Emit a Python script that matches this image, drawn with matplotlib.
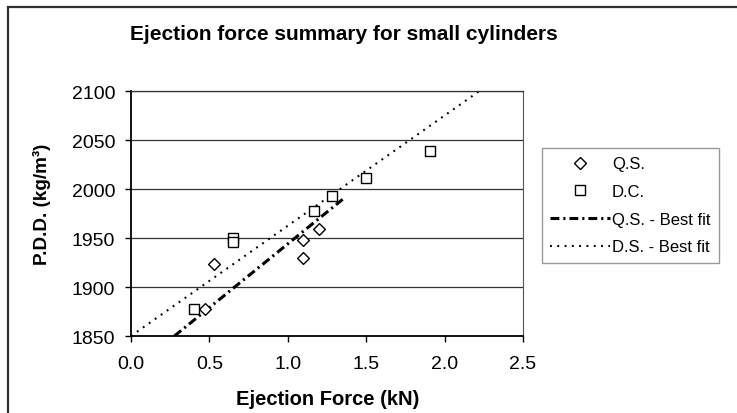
import matplotlib
matplotlib.use("Agg")
import matplotlib.pyplot as plt
import numpy as np
from matplotlib.lines import Line2D
from matplotlib.patches import Rectangle

plt.rcParams["font.family"] = ["Liberation Sans", "DejaVu Sans"]

# Q.S. (quasi-static) samples
qs_force = [0.47, 0.53, 1.10, 1.10, 1.20]
qs_pdd = [1878, 1923, 1948, 1930, 1959]

# D.C. samples
dc_force = [0.40, 0.65, 0.65, 1.17, 1.28, 1.50, 1.91]
dc_pdd = [1878, 1950, 1946, 1978, 1993, 2011, 2039]

# trend lines: slope, intercept and x span
qs_fit = (130.0, 1814.0)
qs_fit_span = [0.276, 1.35]
ds_fit = (112.5, 1850.0)
ds_fit_span = [0.0, 2.222]

x_ticks = [0.0, 0.5, 1.0, 1.5, 2.0, 2.5]
y_ticks = [1850, 1900, 1950, 2000, 2050, 2100]

QS_DASH = (2.9, 1.3, 0.7, 1.3)
DS_DASH = (0.9, 2.6)

W, H = 737, 414
fig = plt.figure(figsize=(W / 100, H / 100), dpi=100)
ax = fig.add_axes([131 / W, 1 - 337 / H, 392 / W, 245 / H])

# outer chart frame (right and bottom edges run off the canvas)
fig.patches.append(Rectangle((8 / W, -0.05), 1.2, 1 - 8 / H + 0.05,
                             transform=fig.transFigure, fill=False,
                             edgecolor="#303030", linewidth=1.6))

for y in y_ticks[1:]:
    ax.axhline(y, color="#333333", linewidth=0.9, zorder=1)

xs = np.array(qs_fit_span)
ax.plot(xs, qs_fit[0] * xs + qs_fit[1], color="black", linewidth=2.2,
        dashes=QS_DASH, zorder=2)
xs = np.array(ds_fit_span)
ax.plot(xs, ds_fit[0] * xs + ds_fit[1], color="black", linewidth=1.5,
        dashes=DS_DASH, zorder=2)

ax.scatter(qs_force, qs_pdd, marker="D", s=36, facecolor="white",
           edgecolor="black", linewidth=1.0, zorder=3)
ax.scatter(dc_force, dc_pdd, marker="s", s=60, facecolor="white",
           edgecolor="black", linewidth=1.0, zorder=3)

ax.set_xlim(0, 2.5)
ax.set_ylim(1850, 2100)
ax.set_xticks(x_ticks, [f"{v:.1f}" for v in x_ticks])
ax.set_yticks(y_ticks, [str(v) for v in y_ticks])
ax.tick_params(direction="out", length=4.5, width=1, labelsize=14, pad=7)
ax.tick_params(axis="x", pad=9)

ax.spines["left"].set_linewidth(1.3)
ax.spines["bottom"].set_linewidth(1.3)
ax.spines["right"].set_color("#555555")
ax.spines["top"].set_color("#333333")
ax.spines["top"].set_linewidth(0.9)

fig.text(328 / W, 1 - 400 / H, "Ejection Force (kN)", ha="center",
         va="center", fontsize=14.5, fontweight="bold")
fig.text(42 / W, 1 - 204 / H, "P.D.D. (kg/m³)", ha="center", va="center",
         rotation=90, fontsize=13.6, fontweight="bold")
fig.text(344 / W, 1 - 34 / H, "Ejection force summary for small cylinders",
         ha="center", va="center", fontsize=15, fontweight="bold")

handles = [
    Line2D([], [], linestyle="none", marker="D", markersize=6,
           markerfacecolor="white", markeredgecolor="black"),
    Line2D([], [], linestyle="none", marker="s", markersize=7.5,
           markerfacecolor="white", markeredgecolor="black"),
    Line2D([], [], color="black", linewidth=2.2, dashes=QS_DASH),
    Line2D([], [], color="black", linewidth=1.5, dashes=DS_DASH),
]
labels = ["Q.S.", "D.C.", "Q.S. - Best fit", "D.S. - Best fit"]
leg = fig.legend(handles, labels, loc="upper left",
                 bbox_to_anchor=(542 / W, 1 - 149 / H),
                 fontsize=12, frameon=True, fancybox=False,
                 edgecolor="#808080", borderpad=0.5, labelspacing=0.76,
                 handlelength=3.6, handletextpad=0.1, borderaxespad=0)
leg.get_frame().set_linewidth(1.0)

fig.savefig("out.png", dpi=100)
